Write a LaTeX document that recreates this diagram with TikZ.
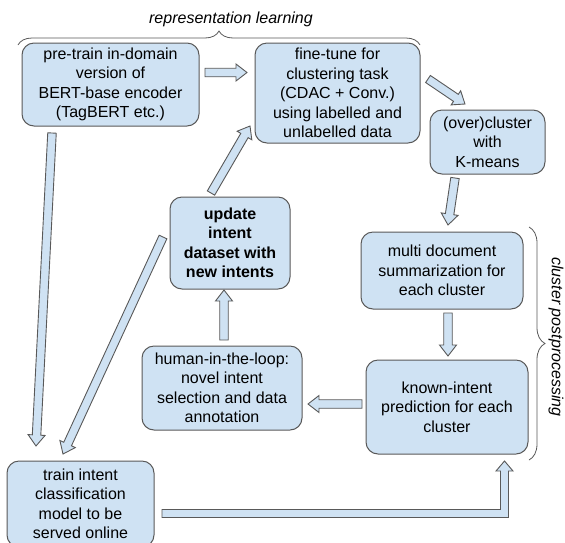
\documentclass[tikz,border=0pt]{standalone}
\usepackage{fontspec}
\setmainfont{Liberation Sans}
\usetikzlibrary{calc,decorations.pathreplacing}
\definecolor{boxfill}{HTML}{CFE2F3}
\definecolor{edgecol}{HTML}{595959}
\tikzset{
  box/.style={draw=edgecol, fill=boxfill, line width=1pt, rounded corners=12pt,
    align=center, inner sep=0pt, text=black, font=\fontsize{16}{19.5}\selectfont},
  arrowsty/.style={draw=edgecol, fill=boxfill, line width=0.9pt, line join=miter},
  bracesty/.style={draw=edgecol, line width=0.8pt, decorate},
  lbl/.style={font=\itshape\fontsize{16}{19.5}\selectfont, text=black, inner sep=0pt}
}
\newcommand\blockarr[2]{%
  \coordinate (ba-h) at ($(#2)!11pt!(#1)$);
  \draw[arrowsty] ($(#1)!4.25pt!90:(#2)$) -- ($(ba-h)!4.25pt!90:(#2)$)
    -- ($(ba-h)!8.5pt!90:(#2)$) -- (#2) -- ($(ba-h)!8.5pt!-90:(#2)$)
    -- ($(ba-h)!4.25pt!-90:(#2)$) -- ($(#1)!4.25pt!-90:(#2)$) -- cycle;}
\begin{document}
\begin{tikzpicture}[x=1pt, y=-1pt]
\useasboundingbox (0,0) rectangle (565,542);
% boxes
\node[box, minimum width=177pt, minimum height=83pt] (pre) at (110.5,84.5)
  {pre-train in-domain\\version of\\BERT-base encoder\\(TagBERT etc.)};
\node[box, minimum width=165pt, minimum height=100pt] (fine) at (337.5,93)
  {fine-tune for\\clustering task\\(CDAC + Conv.)\\using labelled and\\unlabelled data};
\node[box, minimum width=115pt, minimum height=64pt] (over) at (487.5,142)
  {(over)cluster\\with\\K-means};
\node[box, minimum width=120pt, minimum height=92pt, font=\bfseries\fontsize{16}{19.5}\selectfont] (upd) at (230,243)
  {update\\intent\\dataset with\\new intents};
\node[box, minimum width=162pt, minimum height=77pt] (multi) at (442,270.5)
  {multi document\\summarization for\\each cluster};
\node[box, minimum width=160pt, minimum height=84pt] (human) at (222,388)
  {human-in-the-loop:\\novel intent\\selection and data\\annotation};
\node[box, minimum width=162pt, minimum height=94pt] (known) at (447,407)
  {known-intent\\prediction for each\\cluster};
\node[box, minimum width=147pt, minimum height=86pt] (train) at (80.5,504)
  {train intent\\classification\\model to be\\served online};
% braces and labels
\draw[bracesty, decoration={brace, amplitude=14pt}] (18,45) -- (420,45);
\node[lbl] (replab) at (231,19) {representation learning};
\draw[bracesty, decoration={brace, amplitude=16pt}] (529,227) -- (529,460);
\node[lbl, rotate=-90] (cpplab) at (556,337) {cluster postprocessing};
% arrow end points
\coordinate (a1s) at (205,72.5);  \coordinate (a1e) at (247,72.5);
\coordinate (a2s) at (428,79);    \coordinate (a2e) at (465,104);
\coordinate (a3s) at (455,178);   \coordinate (a3e) at (448,225);
\coordinate (a4s) at (448,313);   \coordinate (a4e) at (448,356);
\coordinate (a5s) at (362,404);   \coordinate (a5e) at (308,404);
\coordinate (a6s) at (224,340);   \coordinate (a6e) at (224,290);
\coordinate (a7s) at (211,193);   \coordinate (a7e) at (250,126);
\coordinate (a8s) at (52,133);    \coordinate (a8e) at (36,446);
\coordinate (a9s) at (163,237);   \coordinate (a9e) at (63,454);
\blockarr{a1s}{a1e}
\blockarr{a2s}{a2e}
\blockarr{a3s}{a3e}
\blockarr{a4s}{a4e}
\blockarr{a5s}{a5e}
\blockarr{a6s}{a6e}
\blockarr{a7s}{a7e}
\blockarr{a8s}{a8e}
\blockarr{a9s}{a9e}
% elbow arrow train -> known
\coordinate (e1) at (162,513.5);
\coordinate (e2) at (504.5,461);
\draw[arrowsty] ($(e1)+(0,-4)$) -- ($(e2|-e1)+(-4,-4)$) -- ($(e2)+(-4,10)$) -- ($(e2)+(-8.5,10)$)
  -- (e2) -- ($(e2)+(8.5,10)$) -- ($(e2)+(4,10)$) -- ($(e2|-e1)+(4,4)$) -- ($(e1)+(0,4)$) -- cycle;
\end{tikzpicture}
\end{document}
